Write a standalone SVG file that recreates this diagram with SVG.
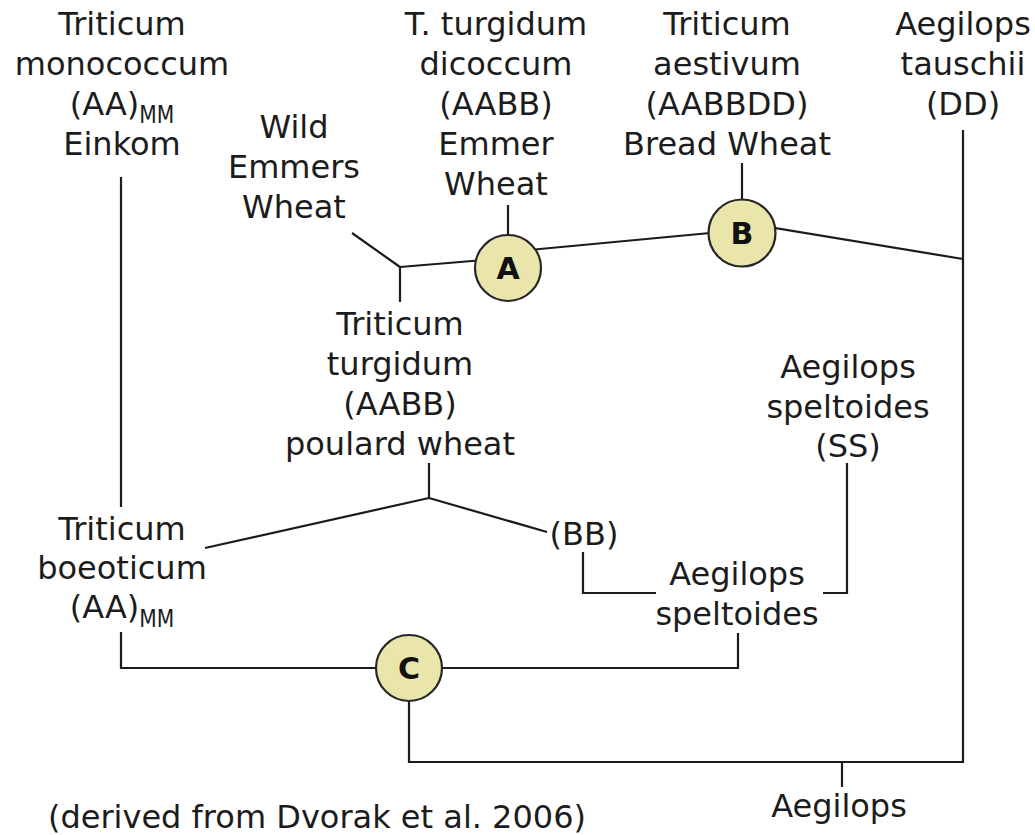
<svg xmlns="http://www.w3.org/2000/svg" width="1035" height="835" viewBox="0 0 1035 835">
  <style>
    .lbl { font-family: "DejaVu Sans", Verdana, sans-serif; font-size: 32px; fill: #1c1c1c; text-anchor: middle; }
    .sub { font-size: 24px; }
    .link { fill: none; stroke: #1c1c1c; stroke-width: 2.2; stroke-linejoin: miter; }
    .hub circle { fill: #e9e5ab; stroke: #262626; stroke-width: 2.2; }
    .hub text { font-family: "DejaVu Sans", Verdana, sans-serif; font-weight: bold; font-size: 30px; fill: #111; text-anchor: middle; }
  </style>
  <rect width="1035" height="835" fill="#ffffff"/>

  <!-- connectors -->
  <g id="connectors" class="link">
    <path d="M121,177 V507"/>
    <path d="M352,233 L400,267"/>
    <path d="M400,267 V302"/>
    <path d="M400,267 L508,258"/>
    <path d="M508,205 V236"/>
    <path d="M508,252 L742,230"/>
    <path d="M742,163 V200"/>
    <path d="M750,224 L963,259"/>
    <path d="M963,130 V762 H409 V701"/>
    <path d="M121,632 V668 H376"/>
    <path d="M442,668 H738 V633"/>
    <path d="M429,463 V498"/>
    <path d="M429,498 L205,548"/>
    <path d="M429,498 L547,532"/>
    <path d="M583,552 V593 H656"/>
    <path d="M823,593 H847 V463"/>
    <path d="M842,762 V787"/>
  </g>

  <!-- species labels -->
  <g id="monococcum" class="lbl">
    <text x="122" y="35">Triticum</text>
    <text x="122" y="75">monococcum</text>
    <text x="122" y="115">(AA)<tspan class="sub" dy="8" textLength="35" lengthAdjust="spacingAndGlyphs">MM</tspan></text>
    <text x="122" y="155">Einkom</text>
  </g>
  <g id="dicoccum" class="lbl">
    <text x="496" y="35">T. turgidum</text>
    <text x="496" y="75">dicoccum</text>
    <text x="496" y="115">(AABB)</text>
    <text x="496" y="155">Emmer</text>
    <text x="496" y="195">Wheat</text>
  </g>
  <g id="aestivum" class="lbl">
    <text x="727" y="35">Triticum</text>
    <text x="727" y="75">aestivum</text>
    <text x="727" y="115">(AABBDD)</text>
    <text x="727" y="155">Bread Wheat</text>
  </g>
  <g id="tauschii" class="lbl">
    <text x="963" y="35">Aegilops</text>
    <text x="963" y="75">tauschii</text>
    <text x="963" y="115">(DD)</text>
  </g>
  <g id="wild-emmer" class="lbl">
    <text x="294" y="138">Wild</text>
    <text x="294" y="178">Emmers</text>
    <text x="294" y="218">Wheat</text>
  </g>
  <g id="poulard" class="lbl">
    <text x="400" y="335">Triticum</text>
    <text x="400" y="375">turgidum</text>
    <text x="400" y="415">(AABB)</text>
    <text x="400" y="455">poulard wheat</text>
  </g>
  <g id="speltoides-ss" class="lbl">
    <text x="848" y="378">Aegilops</text>
    <text x="848" y="418">speltoides</text>
    <text x="848" y="457">(SS)</text>
  </g>
  <g id="bb" class="lbl">
    <text x="584" y="545">(BB)</text>
  </g>
  <g id="speltoides" class="lbl">
    <text x="737" y="585">Aegilops</text>
    <text x="737" y="625">speltoides</text>
  </g>
  <g id="boeoticum" class="lbl">
    <text x="122" y="540">Triticum</text>
    <text x="122" y="579">boeoticum</text>
    <text x="122" y="618">(AA)<tspan class="sub" dy="9" textLength="35" lengthAdjust="spacingAndGlyphs">MM</tspan></text>
  </g>
  <g id="aegilops" class="lbl">
    <text x="839" y="817">Aegilops</text>
  </g>
  <g id="source" class="lbl">
    <text x="317" y="828">(derived from Dvorak et al. 2006)</text>
  </g>

  <!-- hybridisation events -->
  <g id="event-a" class="hub">
    <circle cx="508" cy="268" r="33"/>
    <text x="508" y="279">A</text>
  </g>
  <g id="event-b" class="hub">
    <circle cx="742" cy="233" r="33.5"/>
    <text x="742" y="244">B</text>
  </g>
  <g id="event-c" class="hub">
    <circle cx="409" cy="668" r="33"/>
    <text x="409" y="679">C</text>
  </g>
</svg>
